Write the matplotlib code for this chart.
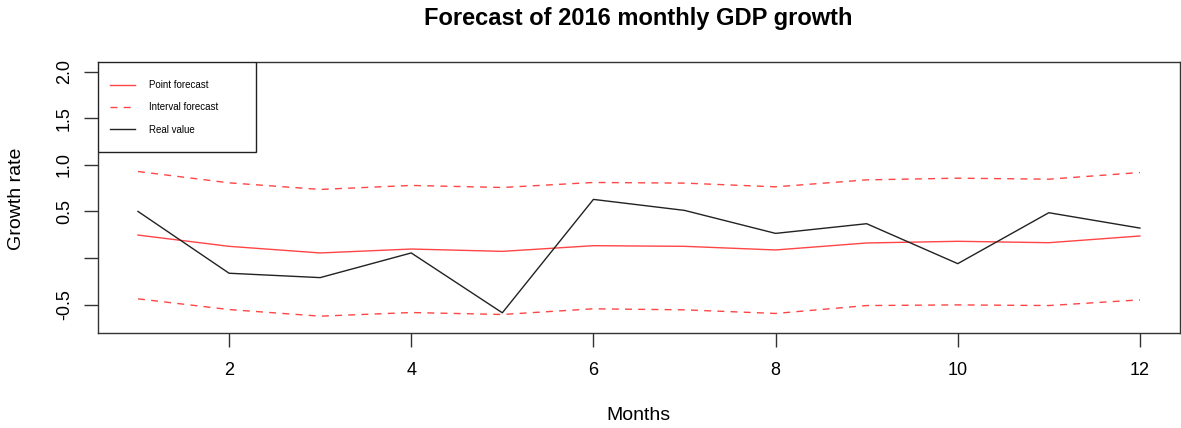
import matplotlib
matplotlib.use("Agg")
import matplotlib.pyplot as plt
from matplotlib.lines import Line2D
from matplotlib.patches import Rectangle

months = list(range(1, 13))
point_forecast = [0.246, 0.125, 0.054, 0.096, 0.071, 0.132, 0.125, 0.086, 0.161, 0.179, 0.164, 0.236]
upper_interval = [0.929, 0.807, 0.736, 0.779, 0.757, 0.811, 0.804, 0.764, 0.839, 0.857, 0.846, 0.918]
lower_interval = [-0.439, -0.554, -0.625, -0.586, -0.607, -0.546, -0.557, -0.596, -0.511, -0.504, -0.511, -0.450]
real_value = [0.500, -0.164, -0.211, 0.054, -0.589, 0.629, 0.511, 0.264, 0.368, -0.061, 0.486, 0.321]

x_ticks = [2, 4, 6, 8, 10, 12]
y_ticks = [-0.5, 0.0, 0.5, 1.0, 1.5, 2.0]
y_tick_labels = ["-0.5", "", "0.5", "1.0", "1.5", "2.0"]
legend_labels = ["Point forecast", "Interval forecast", "Real value"]

plt.rcParams['font.family'] = ['Liberation Sans', 'DejaVu Sans']

W, H = 1181, 428
fig = plt.figure(figsize=(W / 100, H / 100), dpi=100)
left, right, top, bottom = 97.9, 1180.0, 61.7, 333.2
ax = fig.add_axes([left / W, 1 - bottom / H, (right - left) / W, (bottom - top) / H])

red = "#ff4545"
dash = (0, (5, 4.5))
ax.plot(months, point_forecast, color=red, lw=1.0)
ax.plot(months, upper_interval, color=red, lw=1.0, linestyle=dash)
ax.plot(months, lower_interval, color=red, lw=1.0, linestyle=dash)
ax.plot(months, real_value, color="#222222", lw=1.0)

xr = 12 - 1
ax.set_xlim(1 - 0.04 * xr, 12 + 0.04 * xr)
yr = 2.0 - (-0.7)
ax.set_ylim(-0.7 - 0.04 * yr, 2.0 + 0.04 * yr)

ax.set_xticks(x_ticks)
ax.set_xticklabels([str(t) for t in x_ticks])
ax.set_yticks(y_ticks)
ax.set_yticklabels(y_tick_labels, rotation=90, va="center")
ax.tick_params(axis="both", direction="out", length=10, width=1, color="#333333",
               labelsize=13, pad=11)
ax.tick_params(axis="y", pad=8)
for s in ax.spines.values():
    s.set_color("#333333")
    s.set_linewidth(1.0)

fig.text(638 / W, 1 - 19 / H, "Forecast of 2016 monthly GDP growth",
         ha="center", va="center", fontsize=17, fontweight="bold")
fig.text(638 / W, 1 - 415 / H, "Months", ha="center", va="center", fontsize=14)
fig.text(17 / W, 1 - 199 / H, "Growth rate", ha="center", va="center",
         rotation=90, fontsize=14)

# legend frame (box from x=98..256 px, y=62..152 px)
bw = (256 - left) / (right - left)
bh = (152 - top) / (bottom - top)
ax.add_patch(Rectangle((0, 1 - bh), bw, bh, transform=ax.transAxes, fill=True,
                       facecolor="white", edgecolor="#222222", lw=1.0, zorder=5))

handles = [
    Line2D([], [], color=red, lw=1.0),
    Line2D([], [], color=red, lw=1.0, linestyle=dash),
    Line2D([], [], color="#222222", lw=1.0),
]
leg = ax.legend(handles, legend_labels,
                loc="upper left",
                bbox_to_anchor=((110 - left) / (right - left), 1 - (85 - 5 - top) / (bottom - top)),
                fontsize=7, frameon=False, borderaxespad=0, borderpad=0,
                handlelength=2.6, handletextpad=1.45, labelspacing=1.28)
leg.set_zorder(6)

fig.savefig("out.png", dpi=100)
